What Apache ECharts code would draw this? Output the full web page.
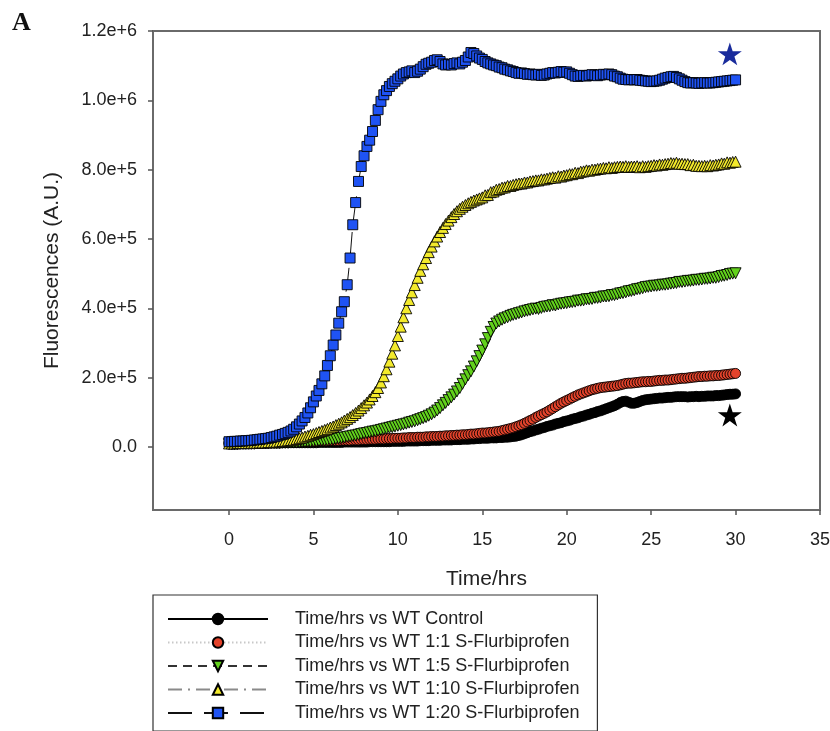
<!DOCTYPE html>
<html><head><meta charset="utf-8">
<script src="https://cdn.jsdelivr.net/npm/echarts@6/dist/echarts.min.js"></script>
<style>html,body{margin:0;padding:0;background:#fff}#c{width:830px;height:731px}</style>
</head><body><div id="c"></div>
<script>
// Sampling times (hours), every 10 min
const times = [
0,0.17,0.33,0.5,0.67,0.83,
1,1.17,1.33,1.5,1.67,1.83,
2,2.17,2.33,2.5,2.67,2.83,
3,3.17,3.33,3.5,3.67,3.83,
4,4.17,4.33,4.5,4.67,4.83,
5,5.17,5.33,5.5,5.67,5.83,
6,6.17,6.33,6.5,6.67,6.83,
7,7.17,7.33,7.5,7.67,7.83,
8,8.17,8.33,8.5,8.67,8.83,
9,9.17,9.33,9.5,9.67,9.83,
10,10.17,10.33,10.5,10.67,10.83,
11,11.17,11.33,11.5,11.67,11.83,
12,12.17,12.33,12.5,12.67,12.83,
13,13.17,13.33,13.5,13.67,13.83,
14,14.17,14.33,14.5,14.67,14.83,
15,15.17,15.33,15.5,15.67,15.83,
16,16.17,16.33,16.5,16.67,16.83,
17,17.17,17.33,17.5,17.67,17.83,
18,18.17,18.33,18.5,18.67,18.83,
19,19.17,19.33,19.5,19.67,19.83,
20,20.17,20.33,20.5,20.67,20.83,
21,21.17,21.33,21.5,21.67,21.83,
22,22.17,22.33,22.5,22.67,22.83,
23,23.17,23.33,23.5,23.67,23.83,
24,24.17,24.33,24.5,24.67,24.83,
25,25.17,25.33,25.5,25.67,25.83,
26,26.17,26.33,26.5,26.67,26.83,
27,27.17,27.33,27.5,27.67,27.83,
28,28.17,28.33,28.5,28.67,28.83,
29,29.17,29.33,29.5,29.67,29.83,
30];

// Fluorescence values in thousands of A.U. (x1000)
const wtControl = [
10,10,10,10,10,10, 10,10,11,11,11,11, 11,11,11,11,11,11, 11,12,12,12,12,12,
12,12,12,12,12,12, 12,12,13,13,13,13, 13,13,13,13,13,14, 14,14,14,14,14,14,
14,14,15,15,15,15, 15,15,15,15,16,16, 16,16,16,17,17,17, 17,17,18,18,18,18,
19,19,19,19,20,20, 20,20,21,21,21,22, 22,22,23,23,24,24, 25,25,25,26,26,26,
27,27,28,28,29,30, 31,33,35,38,41,44, 46,49,51,54,56,59, 61,63,66,68,70,73,
75,77,80,82,84,87, 89,92,94,97,99,102, 104,107,110,113,116,119, 123,128,131,132,129,126,
126,128,131,134,136,137, 138,139,140,141,141,142, 143,143,144,145,145,145, 145,144,145,145,146,145,
146,146,147,147,147,148, 148,149,150,151,152,152, 153];

const wt1to1 = [
12,12,12,12,12,13, 13,13,13,13,13,13, 13,13,14,14,14,14, 14,14,14,15,15,15,
15,15,15,16,16,16, 16,16,17,17,17,17, 18,18,18,18,19,19, 19,19,20,20,20,21,
21,21,22,22,22,23, 23,23,24,24,24,25, 25,25,26,26,27,27, 27,28,28,28,29,29,
30,30,30,31,31,32, 32,33,33,34,34,35, 35,36,37,37,38,39, 40,40,41,42,43,44,
45,47,49,51,53,55, 58,61,64,68,72,76, 80,85,89,93,97,101, 106,111,116,121,126,130,
134,138,142,146,150,153, 156,159,162,165,167,169, 171,172,173,174,175,176, 177,179,181,183,184,184,
185,186,187,188,188,189, 189,190,191,192,192,193, 193,194,195,196,197,198, 198,199,200,201,202,203,
203,204,204,205,205,206, 206,207,208,209,210,211, 212];

const wt1to5 = [
8,8,8,8,9,9, 9,9,9,9,10,10, 10,10,10,11,11,11, 11,12,12,12,13,13,
13,14,14,14,15,15, 16,16,17,18,18,19, 20,21,23,24,26,27, 29,30,32,33,35,37,
39,40,42,44,45,47, 49,51,53,55,57,59, 61,63,65,67,70,72, 74,77,80,83,86,90,
94,99,105,112,120,127, 135,143,151,160,170,182, 195,207,218,232,247,262, 278,296,314,332,346,356,
362,367,371,374,378,381, 383,386,388,391,393,395, 397,399,398,401,404,405, 406,409,408,411,413,414,
415,417,418,419,422,422, 423,426,426,427,430,430, 431,434,434,435,438,438, 440,443,444,446,449,450,
452,455,456,458,461,462, 463,465,465,466,468,468, 469,471,472,473,476,476, 477,479,479,480,482,482,
483,485,485,486,488,488, 490,493,494,496,499,500, 501];

const wt1to10 = [
10,10,10,11,11,11, 11,11,12,12,12,13, 13,13,14,14,15,15, 16,17,18,19,20,21,
23,25,27,30,32,35, 37,40,43,46,49,52, 56,59,63,67,71,76, 81,86,92,98,105,112,
120,128,137,147,158,170, 186,204,224,246,269,293, 320,347,374,400,424,446, 467,488,508,527,545,562,
578,593,607,620,632,643, 653,663,672,680,687,693, 698,703,707,711,714,717, 720,726,727,735,737,742,
744,748,749,753,753,756, 758,760,760,763,763,766, 767,769,769,772,772,774, 776,778,777,781,780,783,
784,787,787,791,790,794, 795,798,797,800,800,802, 803,805,804,807,805,807, 808,809,808,810,808,809,
809,810,807,810,808,810, 811,813,812,815,814,816, 817,819,818,820,817,817, 816,816,813,814,811,811,
810,811,810,813,812,814, 815,818,817,821,820,822, 823];

const wt1to20 = [
15,15,16,16,17,17, 18,18,19,20,21,22, 23,24,25,27,29,31, 34,36,39,42,46,51,
58,66,75,85,98,113, 130,147,163,182,205,235, 263,294,323,357,390,419, 468,545,641,705,766,809,
840,867,885,910,942,973, 997,1016,1028,1040,1048,1055, 1062,1070,1076,1080,1082,1085, 1080,1084,1090,1097,1104,1107,
1110,1115,1117,1112,1105,1102, 1104,1102,1106,1108,1105,1110, 1115,1125,1138,1135,1128,1122, 1118,1112,1108,1105,1102,1100,
1096,1094,1090,1088,1085,1083, 1080,1078,1079,1077,1075,1076, 1074,1073,1075,1072,1073,1076, 1078,1080,1079,1081,1083,1081,
1082,1078,1074,1070,1069,1071, 1072,1070,1072,1074,1073,1071, 1073,1075,1074,1076,1074,1070, 1068,1064,1061,1060,1059,1060,
1059,1060,1058,1057,1056,1055, 1054,1055,1056,1058,1061,1064, 1066,1068,1069,1066,1062,1058, 1054,1051,1050,1051,1050,1049,
1050,1051,1050,1050,1051,1052, 1053,1054,1055,1056,1057,1058, 1059];

const seriesNames = [
  'Time/hrs vs WT Control',
  'Time/hrs vs WT 1:1 S-Flurbiprofen',
  'Time/hrs vs WT 1:5 S-Flurbiprofen',
  'Time/hrs vs WT 1:10 S-Flurbiprofen',
  'Time/hrs vs WT 1:20 S-Flurbiprofen'
];
const xTicks = [0,5,10,15,20,25,30,35];
const yTicks = [0,200000,400000,600000,800000,1000000,1200000];
const yTickLabels = ['0.0','2.0e+5','4.0e+5','6.0e+5','8.0e+5','1.0e+6','1.2e+6'];
// star annotations [time, fluorescence]
const blueStar = [29.66, 1134000];
const blackStar = [29.66, 92000];

const UNIT = 1000;
const FONT = '"Liberation Sans", Arial, sans-serif';
const STAR = 'path://M50,0 L61.8,36.2 L100,36.2 L69.1,58.8 L80.9,95.1 L50,72.7 L19.1,95.1 L30.9,58.8 L0,36.2 L38.2,36.2 Z';

function pairs(vals) { return times.map((t, i) => [t, vals[i] * UNIT]); }

const styles = [
  {vals: wtControl, symbol: 'circle', rot: 0, size: 10, fill: '#000000', lineColor: '#000000', lineType: 'solid'},
  {vals: wt1to1, symbol: 'circle', rot: 0, size: 10, fill: '#e4432b', lineColor: '#c8c8c8', lineType: [1.5, 2.5]},
  {vals: wt1to5, symbol: 'triangle', rot: 180, size: 11, fill: '#62d11c', lineColor: '#333333', lineType: [9, 6]},
  {vals: wt1to10, symbol: 'triangle', rot: 0, size: 11, fill: '#f3ea2c', lineColor: '#8a8a8a', lineType: [14, 6, 2, 6]},
  {vals: wt1to20, symbol: 'rect', rot: 0, size: 10, fill: '#1f53f4', lineColor: '#111111', lineType: [24, 12]}
];

const series = styles.map((s, k) => ({
  name: seriesNames[k],
  type: 'line',
  data: pairs(s.vals),
  symbol: s.symbol,
  symbolRotate: s.rot,
  symbolSize: s.size,
  showSymbol: true,
  showAllSymbol: true,
  silent: true,
  emphasis: {disabled: true},
  lineStyle: {color: s.lineColor, width: 1, type: s.lineType},
  itemStyle: {color: s.fill, borderColor: '#000', borderWidth: 0.9}
}));

series.push({
  type: 'scatter',
  silent: true,
  symbol: STAR,
  symbolKeepAspect: true,
  symbolSize: 24,
  z: 5,
  data: [
    {value: blueStar, itemStyle: {color: '#1a2c9c', opacity: 1}},
    {value: blackStar, itemStyle: {color: '#000000', opacity: 1}}
  ]
});

const chart = echarts.init(document.getElementById('c'), null, {renderer: 'canvas'});
chart.setOption({
  animation: false,
  backgroundColor: '#ffffff',
  textStyle: {fontFamily: FONT},
  grid: {left: 153, right: 10, top: 31, bottom: 221, show: true, borderColor: '#6a6a6a', borderWidth: 2, containLabel: false, outerBoundsMode: 'none'},
  graphic: [{type: 'text', left: 12, top: 10, style: {text: 'A', font: 'bold 26px "Liberation Serif", "Times New Roman", serif', fill: '#111'}}],
  xAxis: {
    type: 'value', min: -4.5, max: 35,
    name: 'Time/hrs', nameLocation: 'middle', nameGap: 59,
    nameTextStyle: {fontSize: 21, color: '#222', fontFamily: FONT},
    axisLine: {show: true, onZero: false, lineStyle: {color: '#6a6a6a', width: 2}},
    axisTick: {show: true, customValues: xTicks, length: 5, lineStyle: {color: '#555', width: 1.5}},
    axisLabel: {customValues: xTicks, margin: 21, fontSize: 18, color: '#222', fontFamily: FONT},
    splitLine: {show: false}
  },
  yAxis: {
    type: 'value', min: -182000, max: 1200000,
    name: 'Fluorescences (A.U.)', nameLocation: 'middle', nameGap: 90,
    nameTextStyle: {fontSize: 21, color: '#222', fontFamily: FONT},
    axisLine: {show: true, onZero: false, lineStyle: {color: '#6a6a6a', width: 2}},
    axisTick: {show: true, customValues: yTicks, length: 5, lineStyle: {color: '#555', width: 1.5}},
    axisLabel: {customValues: yTicks, margin: 16, fontSize: 18, color: '#222', fontFamily: FONT,
      formatter: v => { const i = yTicks.indexOf(v); return i >= 0 ? yTickLabels[i] : ''; }},
    splitLine: {show: false}
  },
  legend: {
    orient: 'vertical', left: 153, top: 595,
    data: seriesNames, selectedMode: false,
    itemWidth: 100, itemHeight: 13, itemGap: 5.5,
    padding: [15, 18, 9, 14],
    borderColor: '#333', borderWidth: 1.2,
    textStyle: {fontSize: 18, color: '#222', fontFamily: FONT, padding: [0, 0, 0, 22]}
  },
  series: series
});
</script></body></html>
